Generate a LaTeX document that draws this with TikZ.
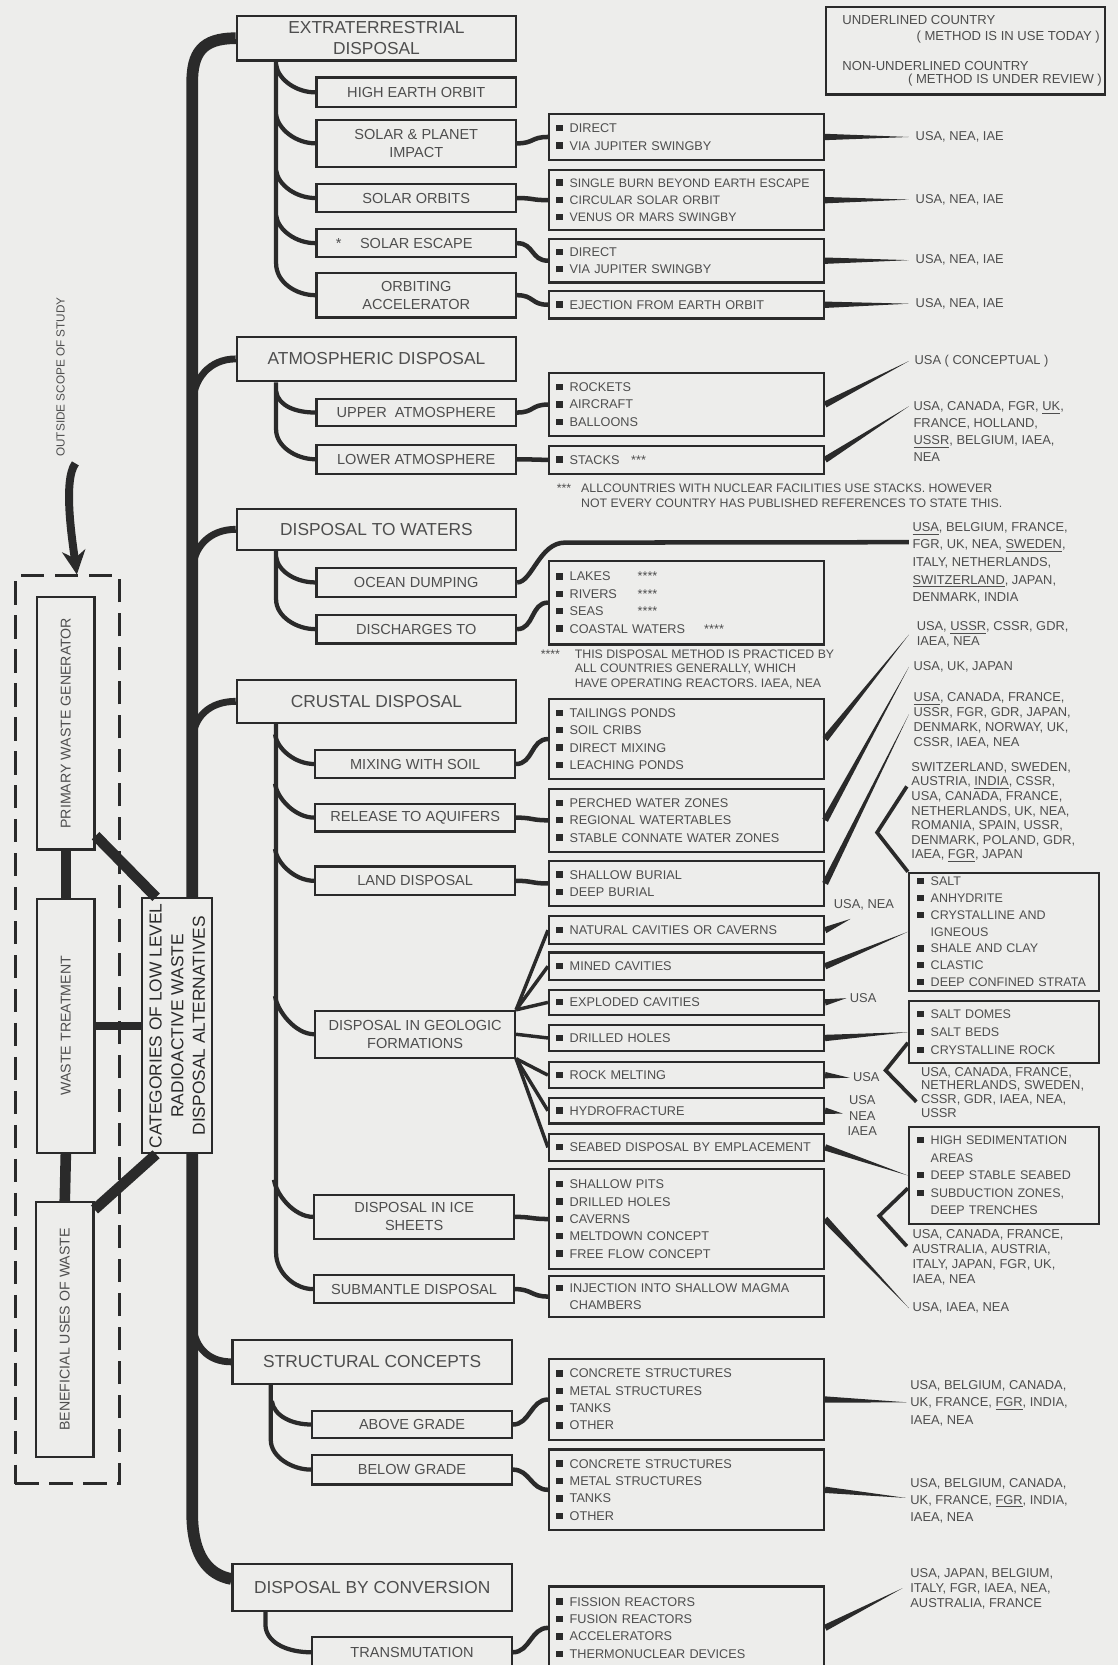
\documentclass[tikz,border=0pt]{standalone}
\usepackage{fontspec}
\setmainfont{Liberation Sans}
\usetikzlibrary{calc,arrows.meta}

\hyphenpenalty=10000
\exhyphenpenalty=10000

\definecolor{paper}{HTML}{EDEDEB}
\definecolor{ink}{HTML}{2A2A2A}
\definecolor{txt}{HTML}{4E4E4E}

\newcommand{\sq}{\textcolor{ink}{\raisebox{0.25mm}{\rule{1.2mm}{1.2mm}}}\hspace{1.3mm}}
\newcommand{\hang}{\hspace*{2.5mm}}
\newcommand{\taper}[3]{\fill[ink] ($(#1)!#3!90:(#2)$) -- (#2) -- ($(#1)!#3!-90:(#2)$) -- cycle;}

\tikzset{
	box/.style={draw=ink, line width=0.4mm, fill=paper, text=txt, inner sep=0pt},
	catbox/.style={box, anchor=north west, minimum width=52.6mm, align=center, font=\fontsize{9.3}{11.5}\selectfont},
	subbox/.style={box, anchor=north west, minimum width=37.6mm, align=center, font=\fontsize{7.8}{9.6}\selectfont},
	listbox/.style={box, anchor=north west, minimum width=51.8mm, text width=49mm, inner xsep=1.4mm, align=left, font=\fontsize{6.8}{9.3}\selectfont},
	rockbox/.style={box, anchor=north west, minimum width=35.8mm, text width=32.6mm, inner xsep=1.6mm, align=left, font=\fontsize{6.7}{9}\selectfont},
	sidebox/.style={box, rotate=90, minimum height=10.8mm, font=\fontsize{7.6}{9}\selectfont},
	tall/.style={minimum height=#1*0.2mm},
	nation/.style={anchor=north west, inner sep=0pt, text=txt, align=left, font=\fontsize{6.9}{#1}\selectfont},
	nation/.default=8.2pt,
	remark/.style={anchor=north west, inner sep=0pt, text=txt, align=left, font=\fontsize{6.6}{#1}\selectfont},
	spine/.style={draw=ink, line width=2.2mm},
	limb/.style={draw=ink, line width=1.3mm},
	twig/.style={draw=ink, line width=0.8mm},
	tie/.style={draw=ink, line width=0.85mm},
	fan/.style={draw=ink, line width=0.65mm},
	vee/.style={draw=ink, line width=0.7mm, line join=miter},
	bar/.style={draw=ink, line width=2mm},
}

\begin{document}
\begin{tikzpicture}[x=0.2mm, y=-0.2mm]

	% ---- page

	\useasboundingbox (0,0) rectangle (1053,1568);
	\clip (0,0) rectangle (1053,1568);
	\fill[paper] (0,0) rectangle (1053,1568);

	\def\spinex{181}

	% ---- legend

	\node[box, anchor=north west, minimum width=52.6mm, minimum height=16.4mm] (legend) at (777,6) {};
	\node[nation, anchor=west, font=\fontsize{7}{8}\selectfont] (keyA) at ($(legend.north west)+(16,13)$) {UNDERLINED COUNTRY};
	\node[nation, anchor=east, font=\fontsize{7}{8}\selectfont] (keyB) at ($(legend.north east)+(-6,29)$) {( METHOD IS IN USE TODAY )};
	\node[nation, anchor=west, font=\fontsize{7}{8}\selectfont] (keyC) at ($(legend.north west)+(16,56)$) {NON-UNDERLINED COUNTRY};
	\node[nation, anchor=east, font=\fontsize{7}{8}\selectfont] (keyD) at ($(legend.north east)+(-4,69)$) {( METHOD IS UNDER REVIEW )};

	% ---- categories

	\node[catbox, tall=42] (cExtra) at (222,14) {EXTRATERRESTRIAL\\DISPOSAL};
	\node[catbox, tall=42] (cAtmo) at (222,316) {ATMOSPHERIC DISPOSAL};
	\node[catbox, tall=39] (cWater) at (222,478) {DISPOSAL TO WATERS};
	\node[catbox, tall=41] (cCrust) at (222,639) {CRUSTAL DISPOSAL};
	\node[catbox, tall=41] (cStruct) at (218,1261) {STRUCTURAL CONCEPTS};
	\node[catbox, tall=44] (cConv) at (218,1472) {DISPOSAL BY CONVERSION};

	% ---- methods

	\node[subbox, tall=28] (sOrbit) at (297,72) {HIGH EARTH ORBIT};
	\node[subbox, tall=44] (sImpact) at (297,112) {SOLAR \& PLANET\\IMPACT};
	\node[subbox, tall=27] (sSolar) at (297,172) {SOLAR ORBITS};
	\node[subbox, tall=26] (sEscape) at (297,215) {\llap{*\hspace{3.5mm}}SOLAR ESCAPE};
	\node[subbox, tall=42] (sAccel) at (297,256) {ORBITING\\ACCELERATOR};
	\node[subbox, tall=25] (sUpper) at (297,375) {UPPER\ \ ATMOSPHERE};
	\node[subbox, tall=27] (sLower) at (297,418) {LOWER ATMOSPHERE};
	\node[subbox, tall=27] (sOcean) at (297,534) {OCEAN DUMPING};
	\node[subbox, tall=27] (sDisch) at (297,578) {DISCHARGES TO};
	\node[subbox, tall=27] (sMix) at (296,705) {MIXING WITH SOIL};
	\node[subbox, tall=26] (sAquif) at (296,756) {RELEASE TO AQUIFERS};
	\node[subbox, tall=27] (sLand) at (296,815) {LAND DISPOSAL};
	\node[subbox, tall=44] (sGeo) at (296,951) {DISPOSAL IN GEOLOGIC\\FORMATIONS};
	\node[subbox, tall=42] (sIce) at (295,1124) {DISPOSAL IN ICE\\SHEETS};
	\node[subbox, tall=26] (sMantle) at (295,1200) {SUBMANTLE DISPOSAL};
	\node[subbox, tall=25] (sAbove) at (293,1328) {ABOVE GRADE};
	\node[subbox, tall=28] (sBelow) at (293,1369) {BELOW GRADE};
	\node[subbox, tall=28] (sTrans) at (293,1541) {TRANSMUTATION};

	% ---- variants

	\node[listbox, tall=44] (dImpact) at (516,106) {\sq DIRECT\\\sq VIA JUPITER SWINGBY};
	\node[listbox, tall=57, font=\fontsize{6.6}{9.3}\selectfont] (dSolar) at (516,159) {\sq SINGLE BURN BEYOND EARTH ESCAPE\\\sq CIRCULAR SOLAR ORBIT\\\sq VENUS OR MARS SWINGBY};
	\node[listbox, tall=41] (dEscape) at (516,224) {\sq DIRECT\\\sq VIA JUPITER SWINGBY};
	\node[listbox, tall=26] (dAccel) at (516,273) {\sq EJECTION FROM EARTH ORBIT};
	\node[listbox, tall=60] (dUpper) at (516,350) {\sq ROCKETS\\\sq AIRCRAFT\\\sq BALLOONS};
	\node[listbox, tall=26] (dLower) at (516,419) {\sq STACKS\hspace{2.2mm}***};
	\node[listbox, tall=79] (dDisch) at (516,527) {\sq\makebox[12.8mm][l]{LAKES}****\\\sq\makebox[12.8mm][l]{RIVERS}****\\\sq\makebox[12.8mm][l]{SEAS}****\\\sq COASTAL WATERS\hspace{3.6mm}****};
	\node[listbox, tall=76] (dMix) at (516,657) {\sq TAILINGS PONDS\\\sq SOIL CRIBS\\\sq DIRECT MIXING\\\sq LEACHING PONDS};
	\node[listbox, tall=59] (dAquif) at (516,742) {\sq PERCHED WATER ZONES\\\sq REGIONAL WATERTABLES\\\sq STABLE CONNATE WATER ZONES};
	\node[listbox, tall=42] (dLand) at (516,810) {\sq SHALLOW BURIAL\\\sq DEEP BURIAL};
	\node[listbox, tall=26] (dNat) at (516,862) {\sq NATURAL CAVITIES OR CAVERNS};
	\node[listbox, tall=26] (dMined) at (516,896) {\sq MINED CAVITIES};
	\node[listbox, tall=24] (dBlast) at (516,931) {\sq EXPLODED CAVITIES};
	\node[listbox, tall=25] (dDrill) at (516,964) {\sq DRILLED HOLES};
	\node[listbox, tall=25] (dMelt) at (516,999) {\sq ROCK MELTING};
	\node[listbox, tall=24] (dHydro) at (516,1033) {\sq HYDROFRACTURE};
	\node[listbox, tall=25] (dSeabed) at (516,1067) {\sq SEABED DISPOSAL BY EMPLACEMENT};
	\node[listbox, tall=94] (dIce) at (516,1100) {\sq SHALLOW PITS\\\sq DRILLED HOLES\\\sq CAVERNS\\\sq MELTDOWN CONCEPT\\\sq FREE FLOW CONCEPT};
	\node[listbox, tall=38] (dMantle) at (516,1201) {\sq INJECTION INTO SHALLOW MAGMA\\\hang CHAMBERS};
	\node[listbox, tall=76] (dAbove) at (516,1279) {\sq CONCRETE STRUCTURES\\\sq METAL STRUCTURES\\\sq TANKS\\\sq OTHER};
	\node[listbox, tall=76] (dBelow) at (516,1364) {\sq CONCRETE STRUCTURES\\\sq METAL STRUCTURES\\\sq TANKS\\\sq OTHER};
	\node[listbox, tall=78] (dTrans) at (516,1493) {\sq FISSION REACTORS\\\sq FUSION REACTORS\\\sq ACCELERATORS\\\sq THERMONUCLEAR DEVICES};

	% ---- host rocks

	\node[rockbox, tall=111] (bSalt) at (855,821) {\sq SALT\\\sq ANHYDRITE\\\sq CRYSTALLINE AND\\\hang IGNEOUS\\\sq SHALE AND CLAY\\\sq CLASTIC\\\sq DEEP CONFINED STRATA};
	\node[rockbox, tall=58, font=\fontsize{6.7}{9.6}\selectfont] (bDome) at (855,942) {\sq SALT DOMES\\\sq SALT BEDS\\\sq CRYSTALLINE ROCK};
	\node[rockbox, tall=92, font=\fontsize{6.7}{9.4}\selectfont] (bSed) at (855,1060) {\sq HIGH SEDIMENTATION\\\hang AREAS\\\sq DEEP STABLE SEABED\\\sq SUBDUCTION ZONES,\\\hang DEEP TRENCHES};

	% ---- countries

	\node[nation, anchor=west] (nImpact) at (862,129) {USA, NEA, IAE};
	\node[nation, anchor=west] (nSolar) at (862,188) {USA, NEA, IAE};
	\node[nation, anchor=west] (nEscape) at (862,245) {USA, NEA, IAE};
	\node[nation, anchor=west] (nAccel) at (862,286) {USA, NEA, IAE};
	\node[nation, anchor=west] (nUpper) at (861,340) {USA ( CONCEPTUAL )};
	\node[nation=9.2pt] (nLower) at (860,377.6) {USA, CANADA, FGR, \underline{UK},\\FRANCE, HOLLAND,\\\underline{USSR}, BELGIUM, IAEA,\\NEA};
	\node[nation=9.4pt] (nWater) at (859,491.6) {\underline{USA}, BELGIUM, FRANCE,\\FGR, UK, NEA, \underline{SWEDEN},\\ITALY, NETHERLANDS,\\\underline{SWITZERLAND}, JAPAN,\\DENMARK, INDIA};
	\node[nation=8.5pt] (nMix) at (863,584.6) {USA, \underline{USSR}, CSSR, GDR,\\IAEA, NEA};
	\node[nation, anchor=west] (nAquif) at (860,628) {USA, UK, JAPAN};
	\node[nation=8.1pt] (nLand) at (860,651.6) {\underline{USA}, CANADA, FRANCE,\\USSR, FGR, GDR, JAPAN,\\DENMARK, NORWAY, UK,\\CSSR, IAEA, NEA};
	\node[nation=7.8pt] (nGeo) at (858,717.6) {SWITZERLAND, SWEDEN,\\AUSTRIA, \underline{INDIA}, CSSR,\\USA, CANADA, FRANCE,\\NETHERLANDS, UK, NEA,\\ROMANIA, SPAIN, USSR,\\DENMARK, POLAND, GDR,\\IAEA, \underline{FGR}, JAPAN};
	\node[nation, anchor=west] (nNat) at (785,852) {USA, NEA};
	\node[nation, anchor=west] (nBlast) at (800,940) {USA};
	\node[nation=7.4pt] (nDome) at (867,1004.6) {USA, CANADA, FRANCE,\\NETHERLANDS, SWEDEN,\\CSSR, GDR, IAEA, NEA,\\USSR};
	\node[nation, anchor=west] (nMelt) at (803,1014) {USA};
	\node[nation=8.3pt, anchor=north, align=center] (nHydro) at (812,1031.6) {USA\\NEA\\IAEA};
	\node[nation=8pt] (nSed) at (859,1157.6) {USA, CANADA, FRANCE,\\AUSTRALIA, AUSTRIA,\\ITALY, JAPAN, FGR, UK,\\IAEA, NEA};
	\node[nation, anchor=west] (nIce) at (859,1232) {USA, IAEA, NEA};
	\node[nation=9.4pt] (nAbove) at (857,1299.6) {USA, BELGIUM, CANADA,\\UK, FRANCE, \underline{FGR}, INDIA,\\IAEA, NEA};
	\node[nation=9.1pt] (nBelow) at (857,1391.6) {USA, BELGIUM, CANADA,\\UK, FRANCE, \underline{FGR}, INDIA,\\IAEA, NEA};
	\node[nation=8pt] (nTrans) at (857,1476.6) {USA, JAPAN, BELGIUM,\\ITALY, FGR, IAEA, NEA,\\AUSTRALIA, FRANCE};

	% ---- footnotes

	\node[remark=8.2pt] (noteStack) at (524,455) {\makebox[4.6mm][l]{***}ALLCOUNTRIES WITH NUCLEAR FACILITIES USE STACKS. HOWEVER\\\hspace*{4.6mm}NOT EVERY COUNTRY HAS PUBLISHED REFERENCES TO STATE THIS.};
	\node[remark=7.7pt] (noteSea) at (509,611.8) {\makebox[6.4mm][l]{****}THIS DISPOSAL METHOD IS PRACTICED BY\\\hspace*{6.4mm}ALL COUNTRIES GENERALLY, WHICH\\\hspace*{6.4mm}HAVE OPERATING REACTORS. IAEA, NEA};

	% ---- main spine and limbs

	\coordinate (spineTop) at (\spinex,78);
	\coordinate (spineFoot) at (\spinex,1425);
	\coordinate (convIn) at ($(cConv.west)+(0,-8)$);

	\draw[spine] (cExtra.west) .. controls +(-32,0) and +(0,-28) .. (spineTop) -- (spineFoot) .. controls +(0,40) and +(-22,-4) .. (convIn);

	\draw[limb] ($(cAtmo.west -| spineTop)+(0,46)$) .. controls +(0,-28) and +(-24,0) .. (cAtmo.west);
	\draw[limb] ($(cWater.west -| spineTop)+(0,42)$) .. controls +(0,-26) and +(-24,0) .. (cWater.west);
	\draw[limb] ($(cCrust.west -| spineTop)+(0,40)$) .. controls +(0,-26) and +(-24,0) .. (cCrust.west);
	\draw[limb] ($(cStruct.west -| spineTop)+(0,-42)$) .. controls +(0,28) and +(-22,0) .. (cStruct.west);

	% ---- rails

	\draw[twig] ($(cExtra.south west)+(38,0)$) -- ($(sAccel.west)+(-37,-30)$) .. controls +(0,18) and +(-18,0) .. (sAccel.west);
	\draw[twig] ($(cAtmo.south west)+(38,0)$) -- ($(sLower.west)+(-37,-28)$) .. controls +(0,16) and +(-18,0) .. (sLower.west);
	\draw[twig] ($(cWater.south west)+(38,0)$) -- ($(sDisch.west)+(-37,-28)$) .. controls +(0,16) and +(-18,0) .. (sDisch.west);
	\draw[twig] ($(cCrust.south west)+(38,0)$) -- ($(sMantle.west)+(-35,-34)$) .. controls +(0,18) and +(-18,0) .. (sMantle.west);
	\draw[twig] ($(cStruct.south west)+(37,0)$) -- ($(sBelow.west)+(-38,-28)$) .. controls +(0,16) and +(-18,0) .. (sBelow.west);
	\draw[twig] ($(cConv.south west)+(32,0)$) -- ($(sTrans.west)+(-43,-26)$) .. controls +(0,16) and +(-24,0) .. (sTrans.west);

	\foreach \s/\dy in {sOrbit/-26, sImpact/-27, sSolar/-26, sEscape/-26, sUpper/-20, sOcean/-24, sMix/-28, sAquif/-32, sLand/-30, sGeo/-36, sIce/-35, sAbove/-22} {
		\draw[twig] ($(\s.west)+(-37,\dy)$) .. controls +(2,14) and +(-18,0) .. (\s.west);
	}

	% ---- methods to variants

	\foreach \a/\b in {sImpact/dImpact, sSolar/dSolar, sEscape/dEscape, sAccel/dAccel, sUpper/dUpper, sLower/dLower, sDisch/dDisch, sMix/dMix, sAquif/dAquif, sLand/dLand, sIce/dIce, sMantle/dMantle, sAbove/dAbove, sBelow/dBelow, sTrans/dTrans} {
		\draw[tie] (\a.east) .. controls +(16,0) and +(-16,0) .. (\b.west);
	}

	\coordinate (wBend) at ($(dDisch.north west)+(16,-16)$);
	\coordinate (tOcean) at ($(nWater.north west)+(-3,19)$);
	\draw[tie] (sOcean.east) .. controls +(14,0) and +(-24,0) .. (wBend) -- (tOcean);

	\foreach \d in {dNat,dMined,dBlast} { \draw[fan] (sGeo.north east) -- (\d.west); }
	\draw[fan] (sGeo.east) -- (dDrill.west);
	\foreach \d in {dMelt,dHydro,dSeabed} { \draw[fan] (sGeo.south east) -- (\d.west); }

	% ---- variants to countries

	\coordinate (tImpact) at ($(nImpact.west)+(-6,0)$);
	\coordinate (tSolar) at ($(nSolar.west)+(-6,0)$);
	\coordinate (tEscape) at ($(nEscape.west)+(-6,0)$);
	\coordinate (tAccel) at ($(nAccel.west)+(-6,0)$);
	\coordinate (tUpper) at ($(nUpper.west)+(-5,0)$);
	\coordinate (tLower) at ($(nLower.north west)+(-4,5)$);
	\coordinate (tMix) at ($(nMix.north west)+(-7,13)$);
	\coordinate (tAquif) at ($(nAquif.west)+(-4,0)$);
	\coordinate (tLand) at ($(nLand.north west)+(-4,21)$);
	\coordinate (tNat) at ($(nNat.south west)+(16,8)$);
	\coordinate (tBlast) at ($(nBlast.west)+(-3,0)$);
	\coordinate (tMelt) at ($(nMelt.west)+(-3,1)$);
	\coordinate (tHydro) at ($(nHydro.west)+(-4,-2)$);
	\coordinate (tIce) at ($(nIce.west)+(-3,0)$);
	\coordinate (tAbove) at ($(nAbove.north west)+(-3,21)$);
	\coordinate (tBelow) at ($(nBelow.north west)+(-4,19)$);
	\coordinate (tTrans) at ($(nTrans.north west)+(-7,19)$);

	\foreach \a/\b in {dImpact/tImpact, dSolar/tSolar, dEscape/tEscape, dAccel/tAccel, dUpper/tUpper, dLower/tLower, dMix/tMix, dAquif/tAquif, dLand/tLand, dNat/tNat, dMined/bSalt.west, dBlast/tBlast, dDrill/bDome.west, dMelt/tMelt, dHydro/tHydro, dSeabed/bSed.west, dIce/tIce, dAbove/tAbove, dBelow/tBelow, dTrans/tTrans} {
		\taper{\a.east}{\b}{0.6mm}
	}

	% ---- host rock brackets

	\coordinate (vGeoA) at ($(nGeo.north west)+(-4,23)$);
	\coordinate (vGeo) at ($(bSalt.north west)+(-29,-37)$);
	\draw[vee] (vGeoA) -- (vGeo) -- (bSalt.north west);

	\coordinate (vDomeA) at ($(bDome.south west)+(0,-20)$);
	\coordinate (vDome) at ($(bDome.south west)+(-21,6)$);
	\coordinate (vDomeB) at ($(nDome.north west)+(-4,33)$);
	\draw[vee] (vDomeA) -- (vDome) -- (vDomeB);

	\coordinate (vSedA) at ($(bSed.west)+(0,12)$);
	\coordinate (vSed) at ($(bSed.west)+(-27,38)$);
	\coordinate (vSedB) at ($(nSed.north west)+(-5,16)$);
	\draw[vee] (vSedA) -- (vSed) -- (vSedB);

	% ---- waste stream

	\node[draw=ink, line width=0.55mm, dash pattern=on 4.4mm off 2mm, anchor=north west, minimum width=19.6mm, minimum height=171mm, inner sep=0pt] (outer) at (13,541) {};

	\node[sidebox, minimum width=47.6mm] (pwg) at (62,681) {PRIMARY WASTE GENERATOR};
	\node[sidebox, minimum width=47.8mm] (wt) at (62,966) {WASTE TREATMENT};
	\node[sidebox, minimum width=48mm] (bu) at (61,1252) {BENEFICIAL USES OF WASTE};

	\draw[bar] (pwg.west) -- (wt.east);
	\draw[bar] (wt.west) -- (bu.east);

	\node[box, rotate=90, minimum width=48mm, minimum height=13.2mm, text=ink, align=center, font=\fontsize{9.3}{11.6}\selectfont] (cat) at (167,966) {CATEGORIES OF LOW LEVEL\\RADIOACTIVE WASTE\\DISPOSAL ALTERNATIVES};

	\draw[bar] ($(pwg.south west)+(0,-14)$) -- ($(cat.north east)+(14,0)$);
	\draw[bar, line width=1.5mm] (wt.south) -- (cat.north);
	\draw[bar] ($(bu.south east)+(0,8)$) -- ($(cat.north west)+(14,0)$);

	% ---- scope note

	\node[rotate=90, text=txt, inner sep=0pt, font=\fontsize{6.3}{7}\selectfont] (scopeNote) at (57,355) {OUTSIDE SCOPE OF STUDY};
	\coordinate (aTail) at ($(scopeNote.west)+(14,6)$);
	\coordinate (aTip) at ($(outer.north)+(9,0)$);
	\draw[ink, line width=1.5mm, -{Stealth[length=4.5mm,width=4.4mm]}] (aTail) .. controls +(-12,16) and +(-4,-30) .. (aTip);

\end{tikzpicture}
\end{document}
